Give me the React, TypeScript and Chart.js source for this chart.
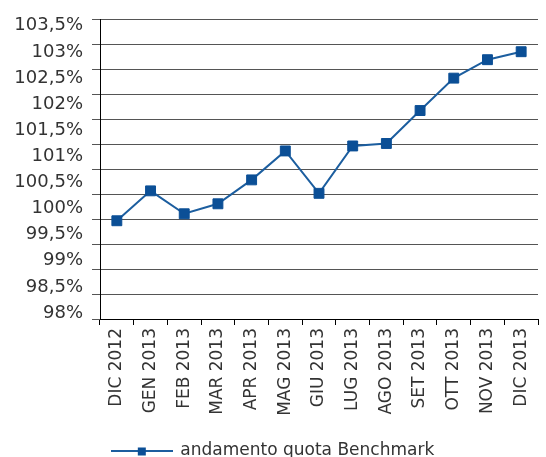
import React, { useEffect, useRef } from "react";
import { Chart, registerables } from "chart.js";

Chart.register(...registerables);

const categories = [
  "DIC 2012", "GEN 2013", "FEB 2013", "MAR 2013", "APR 2013", "MAG 2013",
  "GIU 2013", "LUG 2013", "AGO 2013", "SET 2013", "OTT 2013", "NOV 2013", "DIC 2013",
];
const benchmarkValues = [
  99.97, 100.57, 100.11, 100.31, 100.79, 101.37, 100.52, 101.47, 101.52, 102.18, 102.83, 103.2, 103.36,
];
const yTickLabels = [103.5, 103, 102.5, 102, 101.5, 101, 100.5, 100, 99.5, 99, 98.5, 98];
const seriesName = "andamento quota Benchmark";

const GRID_MIN = 98;
const GRID_MAX = 104;
const LABEL_AXIS_MIN = 97.886;
const LABEL_AXIS_MAX = 103.615;

const LINE_COLOR = "#1c5e9f";
const MARK_COLOR = "#0b4f96";
const TEXT_COLOR = "#333333";
const FONT = "'DejaVu Sans', sans-serif";

const fmt = (v: number) => String(v).replace(".", ",") + "%";

export default function App() {
  const ref = useRef<HTMLCanvasElement | null>(null);
  useEffect(() => {
    if (!ref.current) return;
    const img = document.createElement("canvas");
    img.width = 62;
    img.height = 12;
    const c = img.getContext("2d")!;
    c.strokeStyle = LINE_COLOR;
    c.lineWidth = 2;
    c.beginPath();
    c.moveTo(0, 6);
    c.lineTo(62, 6);
    c.stroke();
    c.fillStyle = MARK_COLOR;
    c.fillRect(27, 2.5, 8, 8);

    const chart = new Chart(ref.current, {
      type: "line",
      data: {
        labels: categories,
        datasets: [
          {
            label: seriesName,
            data: benchmarkValues,
            borderColor: LINE_COLOR,
            borderWidth: 2,
            backgroundColor: MARK_COLOR,
            pointStyle: "rect",
            pointRadius: 7,
            pointBackgroundColor: MARK_COLOR,
            pointBorderColor: MARK_COLOR,
            pointBorderWidth: 1,
            tension: 0,
            yAxisID: "y",
          },
        ],
      },
      options: {
        animation: false,
        responsive: true,
        maintainAspectRatio: false,
        layout: { padding: { top: 19, left: 0, right: 0, bottom: -12.5 } },
        plugins: {
          tooltip: { enabled: false },
          legend: {
            position: "bottom",
            align: "center",
            labels: {
              usePointStyle: true,
              pointStyle: img as any,
              pointStyleWidth: 60,
              padding: 2,
              color: TEXT_COLOR,
              font: { family: FONT, size: 17 },
            },
          },
        },
        scales: {
          x: {
            type: "category",
            offset: true,
            grid: {
              display: true,
              drawOnChartArea: false,
              offset: true,
              tickLength: 6,
              color: "#000",
            },
            border: { display: true, color: "#000", width: 1 },
            ticks: {
              minRotation: 90,
              maxRotation: 90,
              autoSkip: false,
              padding: 3,
              color: TEXT_COLOR,
              font: { family: FONT, size: 17 },
            },
            afterFit: (s: any) => {
              s.height = 121.5;
            },
          },
          y: {
            type: "linear",
            position: "left",
            weight: 0,
            min: GRID_MIN,
            max: GRID_MAX,
            ticks: { display: false, stepSize: 0.5 },
            grid: { color: "#555", tickLength: 8, tickColor: "#555", lineWidth: 1 },
            border: { display: true, color: "#000", width: 1 },
          },
          yl: {
            type: "linear",
            position: "left",
            weight: 1,
            min: LABEL_AXIS_MIN,
            max: LABEL_AXIS_MAX,
            grid: { display: false, drawTicks: false },
            border: { display: false },
            afterBuildTicks: (a: any) => {
              a.ticks = yTickLabels.map((v) => ({ value: v }));
            },
            ticks: {
              padding: 9,
              color: TEXT_COLOR,
              font: { family: FONT, size: 18 },
              callback: (v: any) => fmt(Number(v)),
            },
            afterFit: (s: any) => {
              s.width = 92;
            },
          },
        },
      },
    });
    return () => chart.destroy();
  }, []);
  return (
    <div style={{ position: "absolute", left: 0, top: 0, width: 546, height: 457 }}>
      <canvas ref={ref} />
    </div>
  );
}
